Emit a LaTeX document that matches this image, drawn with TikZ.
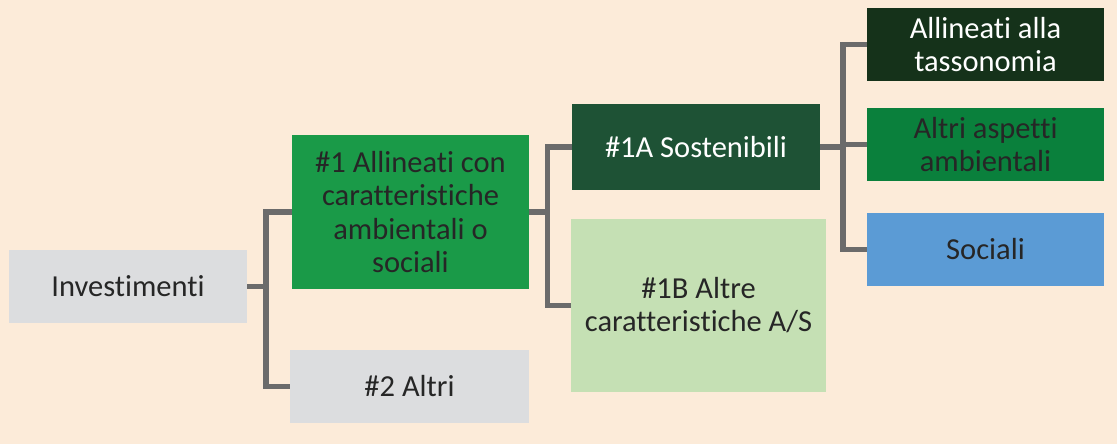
\documentclass[tikz,border=0pt]{standalone}
\usepackage{fontspec}
\setmainfont{Carlito}[Ligatures={NoCommon,NoContextual,NoRequired}]
\definecolor{bgc}{HTML}{FCEBD9}
\definecolor{grayc}{HTML}{DCDDDF}
\definecolor{greenA}{HTML}{1A9A48}
\definecolor{greenD}{HTML}{1E5235}
\definecolor{greenL}{HTML}{C5E0B4}
\definecolor{greenX}{HTML}{15321A}
\definecolor{greenM}{HTML}{0A803C}
\definecolor{blueS}{HTML}{5B9BD5}
\definecolor{connc}{HTML}{6B6B6B}
\definecolor{txt}{HTML}{262626}
\begin{document}
\begin{tikzpicture}[x=1pt,y=-1pt,
  box/.style={rectangle, inner sep=0pt, align=center, text=txt,
    font=\fontsize{30.5}{33.5}\selectfont},
  conn/.style={draw=connc, line width=5.5pt, line join=miter}]
\fill[bgc] (0,0) rectangle (1117,444);
\useasboundingbox (0,0) rectangle (1117,444);

\node[box, fill=grayc, minimum width=238pt, minimum height=73pt] (inv) at (128,286.5) {Investimenti};
\node[box, fill=greenA, minimum width=237pt, minimum height=154pt] (a1) at (410.5,212) {\#1 Allineati con\\caratteristiche\\ambientali o\\sociali};
\node[box, fill=grayc, minimum width=239pt, minimum height=73pt] (a2) at (409.5,386.5) {\#2 Altri};
\node[box, fill=greenD, text=white, minimum width=248pt, minimum height=86pt] (a1A) at (696,147) {\#1A Sostenibili};
\node[box, fill=greenL, minimum width=255pt, minimum height=173pt] (a1B) at (698.5,305.3) {\#1B Altre\\caratteristiche A/S};
\node[box, fill=greenX, text=white, minimum width=237pt, minimum height=73pt] (t1) at (985.5,44.5) {Allineati alla\\tassonomia};
\node[box, fill=greenM, minimum width=237pt, minimum height=73pt] (t2) at (985.5,144.5) {Altri aspetti\\ambientali};
\node[box, fill=blueS, minimum width=237pt, minimum height=73pt] (t3) at (985.5,249.5) {Sociali};

\coordinate (j1) at (266,286.5);
\coordinate (j2) at (547.5,212);
\coordinate (j3) at (843,147);

\draw[conn] (inv.east) -- (j1);
\draw[conn] (a1.west) -| (j1) |- (a2.west);
\draw[conn] (a1.east) -- (j2);
\draw[conn] (a1A.west) -| (j2) |- (a1B.west);
\draw[conn] (a1A.east) -- (j3);
\draw[conn] (t1.west) -| (j3) |- (t3.west);
\draw[conn] (t2.west) -- (t2.west -| j3);
\end{tikzpicture}
\end{document}
